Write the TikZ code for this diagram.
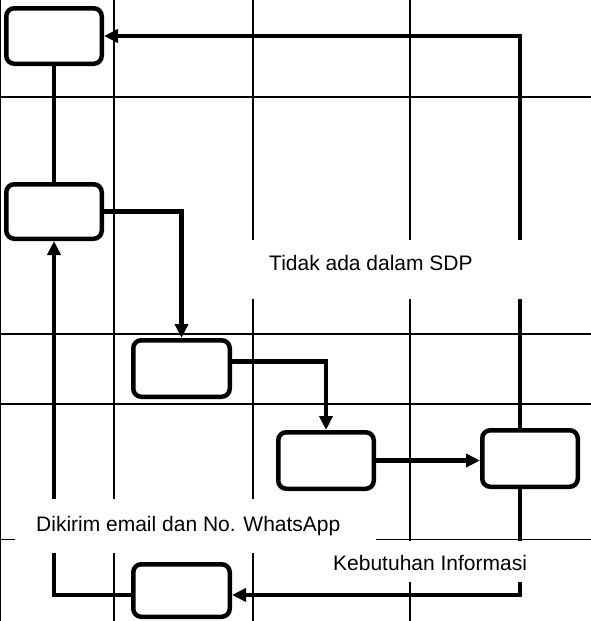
\documentclass[tikz,border=0pt]{standalone}
\usepackage{fontspec}
\setmainfont{Liberation Sans}
\usetikzlibrary{arrows.meta,calc}
\begin{document}
\begin{tikzpicture}[x=1pt,y=-1pt,
  gridline/.style={line width=1.2pt},
  box/.style={draw, line width=4.5pt, rounded corners=8pt, inner sep=0pt, minimum width=95.5pt, minimum height=55.5pt, fill=white},
  conn/.style={line width=4.5pt},
  arr/.style={conn, -{Triangle[length=14pt,width=13pt]}},
  lbl/.style={fill=white, inner ysep=0pt, font=\fontsize{21}{25}\selectfont}]
\fill[white] (0,0) rectangle (591,621);
\useasboundingbox (0,0) rectangle (591,621);
% grid
\foreach \x in {0.6,114,253,410} \draw[gridline] (\x,0) -- (\x,621);
\foreach \y in {97,334,404,539.5} \draw[gridline] (0,\y) -- (591,\y);
% boxes
\node[box] (A) at (54,36) {};
\node[box, minimum height=54.5pt] (B) at (54,211.5) {};
\node[box, minimum width=96.5pt, minimum height=56.5pt] (C) at (181.5,368.5) {};
\node[box, minimum height=56.5pt] (D) at (326,460.5) {};
\node[box, minimum height=56.5pt] (E) at (530,458.5) {};
\node[box, minimum width=96.5pt, minimum height=52.5pt] (F) at (181.5,590.5) {};
% connectors
\draw[arr] ($(E.north)+(-10,0)$) |- (A.east);
\draw[conn] (A.south) -- (B.north);
\draw[arr] (B.east) -| (C.north);
\draw[arr] ($(C.east)+(0,-7)$) -| (D.north);
\draw[arr] (D.east) -- (D.east -| E.west);
\draw[arr] ($(E.south)+(-10,0)$) |- ($(F.east)+(0,4.5)$);
\draw[arr] ($(F.west)+(0,4.5)$) -| (B.south);
% labels
\node[lbl, inner xsep=52pt, text height=30pt, text depth=29pt, anchor=base west] (t1) at (217,270) {Tidak ada dalam SDP};
\node[lbl, inner xsep=21pt, text height=32.5pt, text depth=21.5pt, anchor=base west] (t2) at (15,531.5) {\makebox[319pt][l]{Dikirim email dan No. WhatsApp}};
\node[lbl, inner xsep=31pt, text height=30.2pt, text depth=11.3pt, anchor=base west] (t3) at (302,570.7) {Kebutuhan Informasi};
\end{tikzpicture}
\end{document}
